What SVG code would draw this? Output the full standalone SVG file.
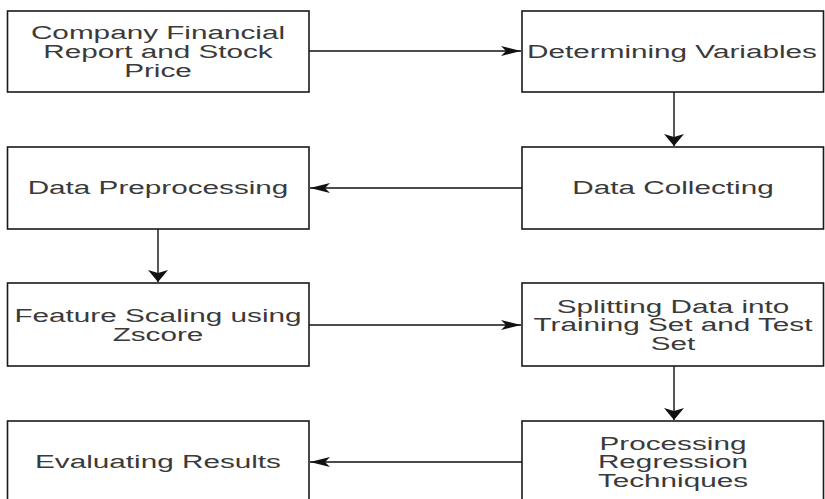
<svg xmlns="http://www.w3.org/2000/svg" width="825" height="499" viewBox="0 0 825 499">
<style>
.box{fill:#fff;stroke:#1a1a1a;stroke-width:1.6}
.lbl{font-family:"Liberation Sans",Arial,sans-serif;font-size:18px;fill:#3a3a3a;text-anchor:middle}
.edge{fill:none;stroke:#111;stroke-width:1.4}
</style>
<defs>
<marker id="mh" markerUnits="userSpaceOnUse" markerWidth="20" markerHeight="10" refX="20" refY="5" orient="auto" overflow="visible">
<path d="M0,0 L20,5 L0,10 L5,5 Z" fill="#111"/>
</marker>
<marker id="mv" markerUnits="userSpaceOnUse" markerWidth="12" markerHeight="20" refX="12" refY="10" orient="auto" overflow="visible">
<path d="M0,0 L12,10 L0,20 L3,10 Z" fill="#111"/>
</marker>
</defs>
<rect width="825" height="499" fill="#fff"/>
<g id="connectors">
<line class="edge" x1="309" y1="51" x2="521" y2="51" marker-end="url(#mh)"/>
<line class="edge" x1="674" y1="92" x2="674" y2="146" marker-end="url(#mv)"/>
<line class="edge" x1="522" y1="188" x2="310" y2="188" marker-end="url(#mh)"/>
<line class="edge" x1="158" y1="229" x2="158" y2="282" marker-end="url(#mv)"/>
<line class="edge" x1="309" y1="325" x2="521" y2="325" marker-end="url(#mh)"/>
<line class="edge" x1="674" y1="366" x2="674" y2="420" marker-end="url(#mv)"/>
<line class="edge" x1="522" y1="462" x2="310" y2="462" marker-end="url(#mh)"/>
</g>
<g id="n1">
<rect class="box" x="7.5" y="11" width="301.5" height="81"/>
<g transform="translate(158,0) scale(1.65,1)">
<text class="lbl" x="0" y="39">Company Financial</text>
<text class="lbl" x="0" y="58">Report and Stock</text>
<text class="lbl" x="0" y="77">Price</text>
</g>
</g>
<g id="n2">
<rect class="box" x="522" y="11" width="301.5" height="81"/>
<g transform="translate(672,0) scale(1.65,1)">
<text class="lbl" x="0" y="58">Determining Variables</text>
</g>
</g>
<g id="n3">
<rect class="box" x="522" y="147" width="301.5" height="82"/>
<g transform="translate(673,0) scale(1.65,1)">
<text class="lbl" x="0" y="194.5">Data Collecting</text>
</g>
</g>
<g id="n4">
<rect class="box" x="7.5" y="147" width="301.5" height="82"/>
<g transform="translate(158,0) scale(1.65,1)">
<text class="lbl" x="0" y="194.5">Data Preprocessing</text>
</g>
</g>
<g id="n5">
<rect class="box" x="7.5" y="283" width="301.5" height="83"/>
<g transform="translate(158,0) scale(1.65,1)">
<text class="lbl" x="0" y="322.5">Feature Scaling using</text>
<text class="lbl" x="0" y="341">Zscore</text>
</g>
</g>
<g id="n6">
<rect class="box" x="522" y="283" width="301.5" height="83"/>
<g transform="translate(673,0) scale(1.65,1)">
<text class="lbl" x="0" y="313">Splitting Data into</text>
<text class="lbl" x="0" y="331.5">Training Set and Test</text>
<text class="lbl" x="0" y="350">Set</text>
</g>
</g>
<g id="n7">
<rect class="box" x="522" y="421" width="301.5" height="83"/>
<g transform="translate(673,0) scale(1.65,1)">
<text class="lbl" x="0" y="450">Processing</text>
<text class="lbl" x="0" y="468.5">Regression</text>
<text class="lbl" x="0" y="487">Techniques</text>
</g>
</g>
<g id="n8">
<rect class="box" x="7.5" y="421" width="301.5" height="83"/>
<g transform="translate(158,0) scale(1.65,1)">
<text class="lbl" x="0" y="468.5">Evaluating Results</text>
</g>
</g>
</svg>
